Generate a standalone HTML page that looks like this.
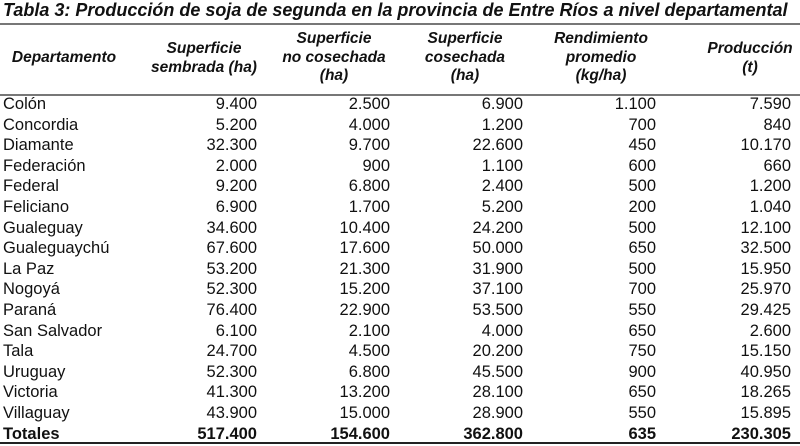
<!DOCTYPE html>
<html><head><meta charset="utf-8"><style>
body{margin:0;width:800px;height:446px;background:#fff;position:relative;overflow:hidden;font-family:"Liberation Sans",Arial,sans-serif;color:#111}
.t{position:absolute;left:3px;top:0px;font-size:18px;font-weight:bold;font-style:italic;white-space:nowrap}
.line{position:absolute;left:0;width:800px;background:#444}
.h{position:absolute;font-weight:bold;font-style:italic;font-size:15.5px;text-align:center;line-height:18.5px;transform:translateX(-50%);white-space:nowrap}
.r{position:absolute;left:0;width:800px;height:20px;font-size:16.5px;line-height:20px}
.r span{position:absolute;white-space:nowrap}
.r span.n{text-align:right}
.b{font-weight:bold}
</style></head><body>
<div class="t">Tabla 3: Producción de soja de segunda en la provincia de Entre Ríos a nivel departamental</div>
<div class="line" style="top:23px;height:2px;background:#777"></div>
<div class="h" style="left:64px;top:49px">Departamento</div>
<div class="h" style="left:204px;top:40px">Superficie<br>sembrada (ha)</div>
<div class="h" style="left:334px;top:30px">Superficie<br>no cosechada<br>(ha)</div>
<div class="h" style="left:465px;top:30px">Superficie<br>cosechada<br>(ha)</div>
<div class="h" style="left:601px;top:30px">Rendimiento<br>promedio<br>(kg/ha)</div>
<div class="h" style="left:750px;top:40px">Producción<br>(t)</div>
<div class="line" style="top:94px;height:2px;background:#777"></div>
<div id="rows"></div>
<div class="line" style="top:442px;height:2px;background:#222"></div>
<script>
var d=[["Colón","9.400","2.500","6.900","1.100","7.590"],["Concordia","5.200","4.000","1.200","700","840"],["Diamante","32.300","9.700","22.600","450","10.170"],["Federación","2.000","900","1.100","600","660"],["Federal","9.200","6.800","2.400","500","1.200"],["Feliciano","6.900","1.700","5.200","200","1.040"],["Gualeguay","34.600","10.400","24.200","500","12.100"],["Gualeguaychú","67.600","17.600","50.000","650","32.500"],["La Paz","53.200","21.300","31.900","500","15.950"],["Nogoyá","52.300","15.200","37.100","700","25.970"],["Paraná","76.400","22.900","53.500","550","29.425"],["San Salvador","6.100","2.100","4.000","650","2.600"],["Tala","24.700","4.500","20.200","750","15.150"],["Uruguay","52.300","6.800","45.500","900","40.950"],["Victoria","41.300","13.200","28.100","650","18.265"],["Villaguay","43.900","15.000","28.900","550","15.895"],["Totales","517.400","154.600","362.800","635","230.305"]];
var R=[257,390,523,656,791],h="";
d.forEach(function(r,i){h+='<div class="r'+(i==16?' b':'')+'" style="top:'+(94+i*20.6)+'px"><span style="left:3px">'+r[0]+'</span>';
for(var j=1;j<6;j++)h+='<span class="n" style="right:'+(800-R[j-1])+'px">'+r[j]+'</span>';h+='</div>';});
document.getElementById("rows").innerHTML=h;
</script>
</body></html>
